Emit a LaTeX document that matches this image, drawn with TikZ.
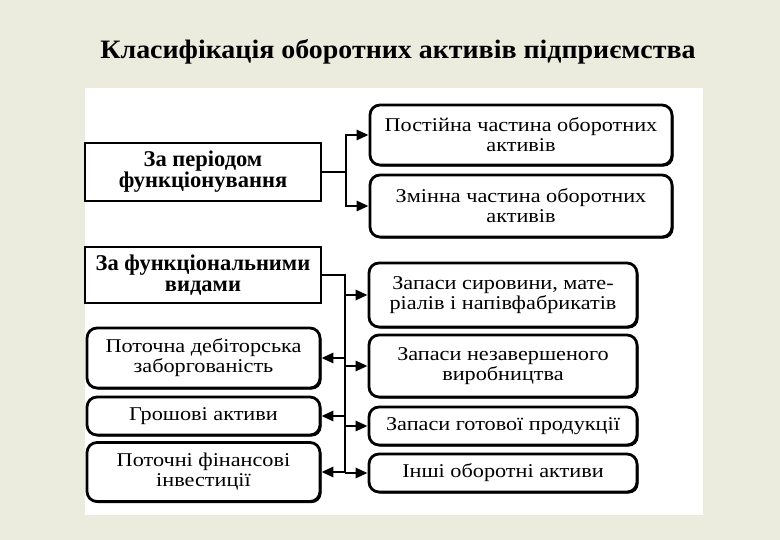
\documentclass[tikz,border=0pt]{standalone}
\usepackage{fontspec}
\setmainfont{Liberation Serif}
\newfontfamily\boxfont[FakeStretch=1.14]{Liberation Serif}
\newfontfamily\titlefont[FakeStretch=1.05]{Liberation Serif}
\usetikzlibrary{arrows.meta,shadows}
\definecolor{bgpaper}{RGB}{236,236,222}
\tikzset{
  x=1pt,y=-1pt,
  plainbox/.style={draw=black,line width=2.8pt,fill=white,rectangle,align=center,
    inner sep=1pt,font=\bfseries\fontsize{22.5}{21}\selectfont},
  roundbox/.style={draw=black,line width=2.8pt,fill=white,rectangle,rounded corners=10pt,
    align=center,inner sep=1pt,font=\boxfont\fontsize{19.5}{20}\selectfont,
    drop shadow={shadow xshift=1.6pt,shadow yshift=-1.6pt,fill=black,opacity=1}},
  conn/.style={line width=2.8pt},
  arr/.style={line width=2.8pt,-{Triangle[length=12pt,width=10pt]}},
}
\begin{document}
\begin{tikzpicture}
\useasboundingbox (0,0) rectangle (780,540);
\fill[bgpaper] (0,0) rectangle (780,540);
\fill[white] (85,88) rectangle (703,515);
% title
\node (title) [font=\titlefont\bfseries\fontsize{26.6}{30}\selectfont] at (398,52) {Класифікація оборотних активів підприємства};
% group 1
\node (P) [plainbox,minimum width=236,minimum height=58] at (203,172) {За періодом\\функціонування};
\node (A) [roundbox,minimum width=302,minimum height=60] at (521,135) {Постійна частина оборотних\\активів};
\node (B) [roundbox,minimum width=302,minimum height=62] at (521,206) {Змінна частина оборотних\\активів};
\coordinate (p) at (346,172);
\draw[conn] (P.east) -- (p);
\draw[arr] (p) |- (A.west);
\draw[arr] (p) |- (B.west);
% group 2
\node (F) [plainbox,minimum width=236,minimum height=56] at (203,275) {За функціональними\\видами};
\node (C1) [roundbox,minimum width=268,minimum height=64] at (503,295) {Запаси сировини, мате-\\ріалів і напівфабрикатів};
\node (C2) [roundbox,minimum width=268,minimum height=62] at (503,366) {Запаси незавершеного\\виробництва};
\node (C3) [roundbox,minimum width=268,minimum height=38] at (503,426) {Запаси готової продукції};
\node (C4) [roundbox,minimum width=268,minimum height=38] at (503,473) {Інші оборотні активи};
\node (L1) [roundbox,minimum width=233,minimum height=60] at (203.5,358) {Поточна дебіторська\\заборгованість};
\node (L2) [roundbox,minimum width=233,minimum height=38] at (203.5,416) {Грошові активи};
\node (L3) [roundbox,minimum width=233,minimum height=59] at (203.5,472) {Поточні фінансові\\інвестиції};
\coordinate (vt) at (345,275);
\coordinate (vb) at (345,473);
\draw[conn] (F.east) -- (vt) -- (vb);
\draw[arr] (vt |- C1.west) -- (C1.west);
\draw[arr] (vt |- C2.west) -- (C2.west);
\draw[arr] (vt |- C3.west) -- (C3.west);
\draw[arr] (vt |- C4.west) -- (C4.west);
\draw[arr] (vt |- L1.east) -- (L1.east);
\draw[arr] (vt |- L2.east) -- (L2.east);
\draw[arr] (vt |- L3.east) -- (L3.east);
\end{tikzpicture}
\end{document}
